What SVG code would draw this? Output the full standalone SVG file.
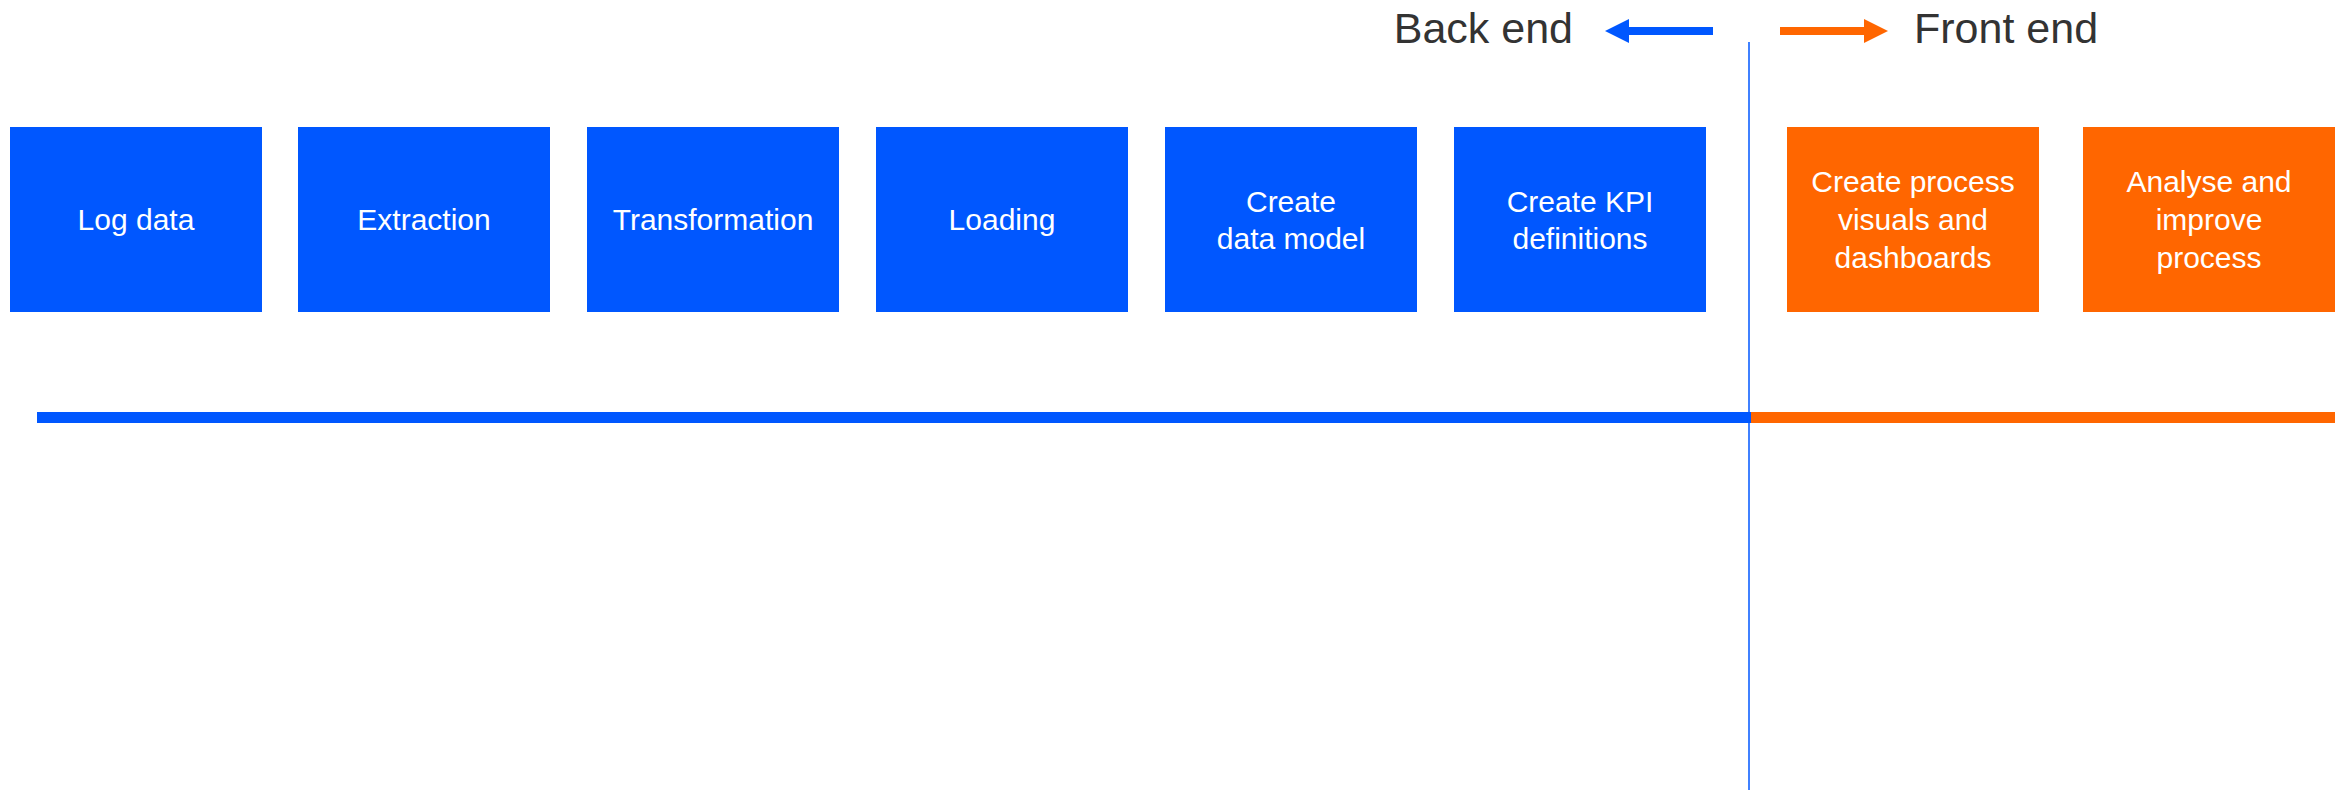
<svg xmlns="http://www.w3.org/2000/svg" width="2346" height="790" viewBox="0 0 2346 790">
<style>
.b{fill:#0057FF}
.o{fill:#FF6600}
.t{font-family:"Liberation Sans",Arial,sans-serif;font-size:30px;fill:#FFFFFF;text-anchor:middle}
.h{font-family:"Liberation Sans",Arial,sans-serif;font-size:43px;fill:#333333}
</style>
<rect width="2346" height="790" fill="#FFFFFF"/>
<g id="connectors">
<rect x="37" y="412" width="1714" height="11" class="b"/>
<rect x="1751" y="412" width="584" height="11" class="o"/>
<line x1="1749" y1="42" x2="1749" y2="790" stroke="#0057FF" stroke-width="1.5"/>
<rect x="1626" y="27" width="87" height="8" class="b"/>
<polygon points="1605,31 1629,19 1629,43" class="b"/>
<rect x="1780" y="27" width="86" height="8" class="o"/>
<polygon points="1888,31 1864,19 1864,43" class="o"/>
</g>
<g id="header-back"><text class="h" x="1573" y="43" text-anchor="end">Back end</text></g>
<g id="header-front"><text class="h" x="1914" y="43">Front end</text></g>
<g id="n1"><rect x="10" y="127" width="252" height="185" class="b"/><text class="t" x="136" y="230">Log data</text></g>
<g id="n2"><rect x="298" y="127" width="252" height="185" class="b"/><text class="t" x="424" y="230">Extraction</text></g>
<g id="n3"><rect x="587" y="127" width="252" height="185" class="b"/><text class="t" x="713" y="230">Transformation</text></g>
<g id="n4"><rect x="876" y="127" width="252" height="185" class="b"/><text class="t" x="1002" y="230">Loading</text></g>
<g id="n5"><rect x="1165" y="127" width="252" height="185" class="b"/><text class="t" x="1291" y="212">Create</text><text class="t" x="1291" y="249">data model</text></g>
<g id="n6"><rect x="1454" y="127" width="252" height="185" class="b"/><text class="t" x="1580" y="212">Create KPI</text><text class="t" x="1580" y="249">definitions</text></g>
<g id="n7"><rect x="1787" y="127" width="252" height="185" class="o"/><text class="t" x="1913" y="192">Create process</text><text class="t" x="1913" y="230">visuals and</text><text class="t" x="1913" y="268">dashboards</text></g>
<g id="n8"><rect x="2083" y="127" width="252" height="185" class="o"/><text class="t" x="2209" y="192">Analyse and</text><text class="t" x="2209" y="230">improve</text><text class="t" x="2209" y="268">process</text></g>
</svg>
